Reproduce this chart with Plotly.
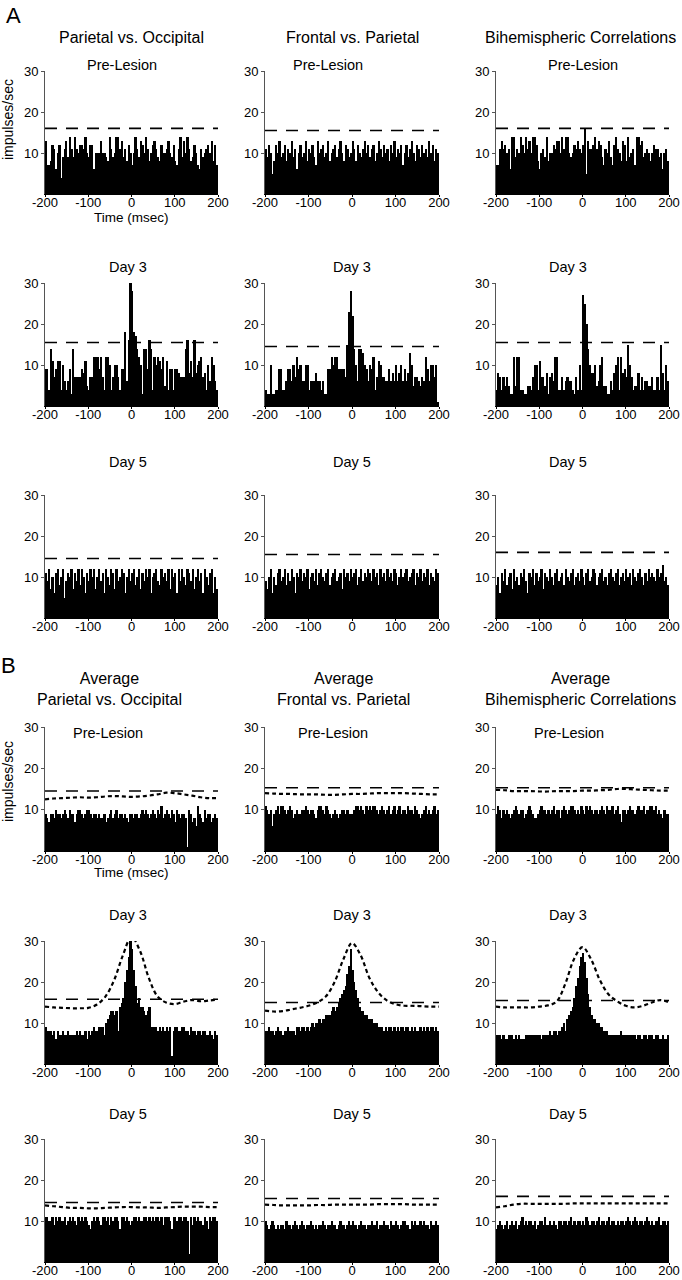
import plotly.graph_objects as go

# ---- data (impulses/sec per 4 ms bin, -200..200 ms) ----
time_ticks = [-200, -100, 0, 100, 200]
time_labels = ["-200", "-100", "0", "100", "200"]
rate_ticks = [10, 20, 30]
curve_lags = list(range(-200, 201, 20))

col_titles_a = ["Parietal vs. Occipital", "Frontal vs. Parietal", "Bihemispheric Correlations"]
col_titles_b = ["Average<br>Parietal vs. Occipital", "Average<br>Frontal vs. Parietal",
                "Average<br>Bihemispheric Correlations"]
stages = ["Pre-Lesion", "Day 3", "Day 5"]

# A: single pairs
a_pre_po = [13,7,7,8,12,11,6,10,12,4, 9,11,13,9,14,11,9,14,11,10, 12,12,11,14,10,9,12,12,6,10,
            10,10,13,10,10,9,8,14,11,9, 10,14,14,11,13,9,11,8,12,10, 7,10,14,11,9,13,12,10,14,11,
            8,10,12,13,11,9,8,12,10,10, 11,13,10,9,12,8,7,11,14,9, 13,10,14,11,8,9,12,10,7,6,
            11,9,10,11,12,10,13,8,12,7]
a_pre_fp = [11,9,12,10,5,8,12,10,13,9, 10,12,8,11,10,13,9,11,6,10, 12,9,10,13,8,11,10,12,9,7,
            13,10,11,12,9,10,13,8,10,11, 12,9,11,13,10,8,12,11,9,10, 13,11,8,12,10,9,11,13,10,12,
            9,11,12,8,10,13,11,9,12,10, 11,8,12,10,13,9,11,10,12,7, 10,12,9,11,13,10,8,12,11,9,
            12,10,11,9,13,10,12,8,11,10]
a_pre_bh = [7,7,11,13,11,12,10,11,6,14, 14,9,11,10,14,12,10,14,11,13, 10,14,14,12,8,6,10,11,9,14,
            8,10,10,12,11,13,13,10,14,11, 14,14,10,9,10,12,11,13,11,10, 12,16,5,13,11,11,12,14,11,13,
            12,9,7,11,10,13,9,7,12,14, 11,10,8,13,12,8,14,9,10,11, 7,14,14,12,13,9,10,11,10,8,
            10,12,11,11,9,10,6,10,11,8]
a_d3_po = [9,9,4,14,11,7,9,11,11,4, 10,6,4,6,9,3,14,7,7,7, 7,9,8,11,5,4,7,7,12,12,
           12,9,12,7,4,12,12,10,4,7, 10,10,7,4,9,9,18,6,16,30, 28,18,17,14,12,10,3,14,14,9,
           16,14,4,12,10,12,11,9,12,5, 11,4,9,9,4,9,9,8,7,7, 7,14,16,8,11,7,16,8,10,11,
           12,7,8,4,10,6,12,10,6,4]
a_d3_fp = [4,3,3,10,3,3,4,4,9,9, 4,4,6,9,9,6,10,7,12,9, 10,6,6,10,10,4,6,6,6,8,
           6,6,4,6,3,3,9,9,12,10, 12,12,9,9,9,9,7,15,23,28, 22,14,10,6,14,14,13,10,9,6,
           10,9,12,4,7,11,10,7,7,6, 6,9,6,8,6,10,6,8,10,6, 9,6,8,13,10,5,7,7,6,5,
           7,6,12,9,6,10,10,7,10,1]
a_d3_bh = [4,8,7,4,7,5,7,5,3,3, 12,5,12,12,4,4,3,3,5,5, 4,7,10,10,4,11,7,7,5,8,
           3,7,8,6,12,12,4,4,7,4, 6,7,6,6,4,3,7,4,10,4, 27,25,20,14,10,8,8,10,5,6,
           10,12,5,5,3,3,6,4,8,10, 12,4,12,8,9,7,15,10,7,4, 5,5,8,4,7,4,6,6,5,5,
           7,4,4,7,4,15,8,4,10,6]
a_d5_po = [11,9,12,7,10,6,11,12,8,10, 12,5,9,11,10,12,7,11,9,12, 8,12,10,6,11,9,12,10,12,7,
           10,12,9,11,6,12,10,8,12,11, 7,12,9,10,12,11,6,10,12,9, 11,12,8,10,12,7,11,9,12,10,
           12,6,10,11,12,9,8,12,10,11, 9,12,7,12,10,11,6,12,9,12, 10,8,12,11,9,12,7,10,12,9,
           11,6,12,10,8,11,12,6,10,7]
a_d5_fp = [9,7,10,12,6,10,8,11,12,9, 10,12,8,11,9,12,10,6,11,10, 12,9,11,10,12,7,10,11,9,12,
           8,11,12,10,9,11,12,8,10,11, 12,9,10,11,7,12,10,11,9,12, 10,11,12,8,10,12,9,11,10,12,
           11,9,12,10,11,8,12,10,11,9, 12,10,11,9,12,11,8,10,12,10, 11,12,9,10,11,12,8,11,10,12,
           9,11,10,12,8,11,10,9,12,11]
a_d5_bh = [8,10,6,11,9,12,8,10,11,7, 12,9,10,8,11,10,12,9,6,11, 10,12,8,11,9,10,12,7,11,10,
           9,12,10,8,11,12,9,10,11,8, 12,10,9,11,12,8,10,11,9,12, 10,8,11,12,9,10,12,11,8,10,
           11,12,9,10,8,11,12,10,9,11, 12,8,10,11,9,12,10,11,8,12, 10,9,11,12,10,8,11,9,12,10,
           11,10,9,12,10,11,13,9,10,8]

# B: averages
b_pre_po = [9,8,7,9,9,8,10,9,9,8, 9,10,9,8,10,9,9,7,9,10, 10,9,8,9,10,10,9,8,9,9,
            8,9,8,8,9,7,8,9,10,8, 9,10,8,9,9,8,9,8,7,9, 9,8,9,9,8,9,10,9,10,9,
            8,9,10,9,8,10,9,11,8,9, 10,9,8,10,9,7,10,9,8,9, 9,8,1,10,9,7,8,6,11,9,
            8,7,10,8,9,9,7,8,9,8]
b_pre_fp = [11,10,9,10,6,9,10,11,9,11, 11,10,9,10,11,10,8,9,10,9, 9,10,10,11,10,9,10,10,9,8,
            10,11,11,10,9,11,10,9,8,9, 10,9,8,9,10,10,9,10,9,9, 9,10,11,11,10,11,10,9,11,10,
            11,10,11,11,10,9,10,11,10,9, 10,11,9,10,11,9,10,11,9,10, 10,9,11,10,10,9,11,10,9,8,
            9,10,11,9,10,9,10,11,9,10]
b_pre_bh = [9,11,10,8,10,9,10,9,8,9, 10,11,10,9,10,10,8,9,10,11, 10,9,8,8,9,10,11,10,10,9,
            10,9,10,11,9,10,10,8,10,11, 10,9,10,11,11,10,9,10,9,11, 10,9,11,10,11,10,9,10,10,9,
            10,11,10,9,11,10,10,11,9,10, 11,9,7,10,10,9,10,11,10,10, 9,10,11,10,10,11,9,10,10,11,
            11,10,11,9,10,9,8,10,9,9]
b_d3_po = [9,8,8,8,7,8,6,8,7,7, 8,7,7,8,7,7,7,7,8,7, 8,7,7,8,6,8,7,8,9,8,
           8,9,9,9,7,10,11,12,13,13, 12,13,8,14,15,16,20,23,26,30, 28,23,19,15,16,14,14,13,12,13,
           14,9,9,9,9,8,9,8,9,8, 9,8,9,2,8,9,9,8,8,9, 9,8,8,7,9,8,8,7,8,8,
           7,8,8,7,7,8,7,6,8,7]
b_d3_fp = [8,8,9,8,8,7,8,9,8,8, 7,8,8,9,8,8,8,7,9,9, 8,9,9,8,9,8,9,10,9,10,
           10,11,10,11,11,12,12,12,13,14, 13,14,15,16,17,18,19,22,24,28, 23,20,18,16,14,13,13,12,12,11,
           11,11,10,10,10,9,9,9,8,9, 8,9,9,8,9,8,9,8,9,9, 8,9,9,8,9,8,9,8,8,9,
           8,9,8,9,8,9,9,8,9,8]
b_d3_bh = [7,7,7,6,7,6,6,7,7,7, 6,7,6,7,6,6,6,7,7,7, 7,7,7,7,7,7,6,7,7,7,
           7,8,7,8,8,7,8,8,9,10, 8,11,12,13,14,16,19,21,24,26, 27,25,21,17,14,12,11,11,10,10,
           9,9,8,8,8,7,7,7,7,7, 7,7,8,7,7,7,7,7,7,7, 7,6,7,7,6,7,7,6,7,7,
           7,6,7,7,6,6,7,6,6,7]
b_d5_po = [11,11,10,10,11,9,11,10,11,10, 10,11,9,10,11,10,11,10,9,11, 10,11,10,11,10,9,8,10,11,10,
           11,10,9,11,11,10,11,9,11,10, 11,11,10,8,11,11,10,11,10,9, 10,11,11,10,11,10,10,11,11,10,
           11,10,11,10,11,11,10,11,9,11, 11,11,10,8,11,11,10,11,11,10, 11,11,10,2,11,9,11,10,11,10,
           10,9,11,10,8,11,10,11,11,10]
b_d5_fp = [10,9,8,9,10,9,8,9,8,9, 9,8,10,9,9,8,9,10,9,8, 9,10,9,8,9,9,10,9,8,9,
           8,9,9,10,9,8,9,9,10,9, 9,8,9,10,9,9,8,9,10,9, 10,9,9,8,9,10,9,9,8,9,
           9,10,9,9,10,8,9,9,10,9, 9,8,10,9,9,10,9,8,9,10, 10,9,9,8,10,9,10,9,9,10,
           9,10,9,9,8,10,9,9,10,9]
b_d5_bh = [8,9,10,9,8,9,10,8,9,10, 9,10,8,9,10,11,9,10,9,10, 10,9,10,8,9,10,10,9,11,9,
           9,10,9,10,9,8,10,10,9,10, 10,9,10,11,9,10,9,10,10,9, 10,9,11,10,9,10,10,9,10,11,
           9,10,10,9,10,11,9,10,10,9, 10,9,10,10,9,10,11,10,9,10, 11,10,9,10,10,9,10,11,10,9,
           10,9,10,10,11,9,10,10,9,10]

# significance thresholds (dashed)
a_thresh = [[16, 15.5, 16], [15.5, 14.5, 15.5], [14.5, 15.5, 16]]
b_thresh = [[14.5, 15.3, 15.3], [15.8, 15.0, 15.5], [14.5, 15.5, 16.0]]

# shuffle predictor curves (dotted), sampled every 20 ms
c_pre_po = [12.5,12.7,12.8,12.9,13,12.9,13,13.2,13.3,13.2,13.1,13.2,13.4,13.7,14.1,14,13.7,13.4,13,12.8,12.8]
c_pre_fp = [14,13.9,13.8,13.8,13.7,13.7,13.7,13.6,13.6,13.7,13.8,13.8,13.9,14,14,14,14,13.9,13.8,13.7,13.7]
c_pre_bh = [14.8,14.7,14.5,14.5,14.5,14.4,14.4,14.5,14.5,14.5,14.6,14.6,14.7,14.8,15,15,14.9,14.8,14.7,14.6,14.6]
c_d3_po = [14,13.8,13.7,13.6,13.6,13.7,14.5,16.5,20.5,26.5,31,27.5,21,16.5,15,14.6,15.2,15.6,15.3,15.5,15.7]
c_d3_fp = [13,12.8,12.9,13.3,13.7,14.2,15,16.5,20,25.5,29.5,26.5,21,17.5,15.5,14.6,14.2,14.2,14.1,14,14]
c_d3_bh = [14,13.8,13.8,13.8,13.8,14,14.3,15.2,19.5,25.5,28.5,25.5,20.5,17,15.3,14.2,13.8,14.2,15,15.6,15]
c_d5_po = [13.8,13.6,13.4,13.2,13.2,13.1,13.1,13.2,13.3,13.4,13.4,13.3,13.3,13.2,13.3,13.4,13.5,13.5,13.5,13.4,13.4]
c_d5_fp = [14,13.9,13.8,13.8,13.8,13.8,13.9,13.9,14,14,14,14,14,14.1,14.1,14.1,14.1,14,14,14,14]
c_d5_bh = [13.3,13.6,14,14.2,14.2,14.2,14.2,14.2,14.2,14.3,14.3,14.3,14.3,14.3,14.3,14.3,14.3,14.3,14.3,14.3,14.3]

bars = [[a_pre_po, a_pre_fp, a_pre_bh], [a_d3_po, a_d3_fp, a_d3_bh], [a_d5_po, a_d5_fp, a_d5_bh],
        [b_pre_po, b_pre_fp, b_pre_bh], [b_d3_po, b_d3_fp, b_d3_bh], [b_d5_po, b_d5_fp, b_d5_bh]]
thresh = a_thresh + b_thresh
curves = [None, None, None,
          [c_pre_po, c_pre_fp, c_pre_bh], [c_d3_po, c_d3_fp, c_d3_bh], [c_d5_po, c_d5_fp, c_d5_bh]]

# ---- layout in pixels ----
W, H = 682, 1280
col_px = [(45, 218), (265, 439), (496, 669)]
row_px = [(71, 194), (283, 406), (495, 618), (727, 851), (941, 1064), (1139, 1262)]
FONT = "Liberation Sans, Arial, Helvetica, sans-serif"


def px(x):
    return x / W


def py(y):
    return 1 - y / H


fig = go.Figure()
layout = {}
n = 0
for r in range(6):
    for c in range(3):
        n += 1
        xa, ya = f"x{n}", f"y{n}"
        vals = bars[r][c]
        bw = 400 / len(vals)
        xs = [-200 + bw * (i + 0.5) for i in range(len(vals))]
        fig.add_trace(go.Bar(x=xs, y=vals, width=bw, marker=dict(color="black", line_width=0),
                             xaxis=xa, yaxis=ya, showlegend=False, hoverinfo="skip"))
        th = thresh[r][c]
        fig.add_trace(go.Scatter(x=[-200, 200], y=[th, th], mode="lines",
                                 line=dict(color="black", width=1.6, dash="12px,9px"),
                                 xaxis=xa, yaxis=ya, showlegend=False, hoverinfo="skip"))
        if curves[r] is not None:
            fig.add_trace(go.Scatter(x=curve_lags, y=curves[r][c], mode="lines",
                                     line=dict(color="black", width=2.2, dash="4px,3px", shape="spline"),
                                     xaxis=xa, yaxis=ya, showlegend=False, hoverinfo="skip"))
        x0, x1 = col_px[c]
        y0, y1 = row_px[r]
        layout[f"xaxis{n}"] = dict(domain=[px(x0), px(x1)], range=[-200, 200], anchor=ya,
                                   tickvals=time_ticks, ticktext=time_labels,
                                   ticks="outside", ticklen=2, tickcolor="black",
                                   ticklabelstandoff=-6,
                                   showline=True, linecolor="black", linewidth=1, automargin=False,
                                   showgrid=False, zeroline=False,
                                   tickfont=dict(size=13, family=FONT, color="black"))
        layout[f"yaxis{n}"] = dict(domain=[py(y1), py(y0)], range=[0, 30], anchor=xa,
                                   tickvals=rate_ticks, ticks="outside", ticklen=3, tickcolor="#555",
                                   showline=True, linecolor="#555", linewidth=1, automargin=False,
                                   showgrid=False, zeroline=False,
                                   tickfont=dict(size=13, family=FONT, color="black"))

ann = []


def text(x, y, s, size=16, angle=0, xanchor="center", yanchor="middle"):
    ann.append(dict(x=px(x), y=py(y), xref="paper", yref="paper", text=s, showarrow=False,
                    xanchor=xanchor, yanchor=yanchor, textangle=angle,
                    font=dict(size=size, family=FONT, color="black")))


text(13, 15, "A", size=22)
text(8, 665, "B", size=22)
for c, xc in enumerate([131, 352, 580]):
    text(xc, 37, col_titles_a[c])
for c, xc in enumerate([109, 343, 580]):
    text(xc, 689, col_titles_b[c])
for c, xc in enumerate([122, 328, 583]):
    text(xc, 65, stages[0], size=14.5)
for c, xc in enumerate([108, 333, 569]):
    text(xc, 733, stages[0], size=14.5)
for c, xc in enumerate([128, 352, 568]):
    text(xc, 267, stages[1], size=14.5)
    text(xc, 462, stages[2], size=14.5)
    text(xc, 915, stages[1], size=14.5)
    text(xc, 1114, stages[2], size=14.5)
text(8, 120, "impulses/sec", size=14, angle=-90)
text(8, 782, "impulses/sec", size=14, angle=-90)
text(131, 218, "Time (msec)", size=13.5)
text(131, 872, "Time (msec)", size=13.5)

fig.update_layout(template="none", width=W, height=H, margin=dict(l=0, r=0, t=0, b=0, pad=0),
                  autosize=False,
                  paper_bgcolor="white", plot_bgcolor="white", bargap=0,
                  showlegend=False, annotations=ann, font=dict(family=FONT, color="black"),
                  **layout)
# the page's default 8px body margin would shift the figure and add scrollbars
fig.write_html("out.html", config={"displayModeBar": False},
               post_script="document.body.style.margin = '0';")
